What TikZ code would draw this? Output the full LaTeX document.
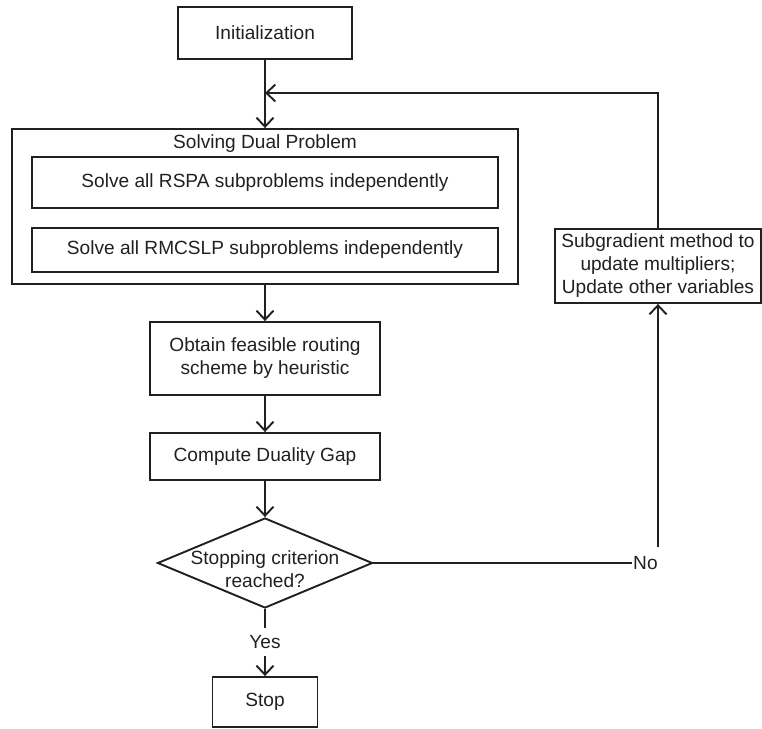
\documentclass[tikz,border=0pt]{standalone}
\usepackage{fontspec}
\setmainfont{Liberation Sans}
\usetikzlibrary{shapes.geometric,arrows.meta}
\definecolor{ink}{HTML}{231F20}
\begin{document}
\begin{tikzpicture}[x=1pt,y=-1pt,
  every node/.style={font=\fontsize{19.1}{23}\selectfont, text=ink},
  box/.style={draw=ink, line width=1.9pt, inner sep=0pt, align=center},
  arr/.style={draw=ink, line width=1.9pt, -{Straight Barb[length=9pt,width=17pt]}},
  ln/.style={draw=ink, line width=1.9pt},
  dec/.style={draw=ink, line width=1.9pt, shape=diamond, inner sep=0pt, minimum width=215pt, minimum height=90pt}]
\useasboundingbox (0,0) rectangle (762,728);
\node[box, minimum width=174pt, minimum height=52pt] (init) at (265,33) {Initialization};
\node[box, minimum width=506pt, minimum height=155pt] (outer) at (265,206.5) {};
\node (dualtitle) at (265,144) {Solving Dual Problem};
\node[box, minimum width=466pt, minimum height=51pt] (rspa) at (265,182.5) {Solve all RSPA subproblems independently};
\node[box, minimum width=466pt, minimum height=44pt] (rmcslp) at (265,250) {Solve all RMCSLP subproblems independently};
\node[box, minimum width=230pt, minimum height=73pt] (obtain) at (265,358.5) {Obtain feasible routing\\scheme by heuristic};
\node[box, minimum width=230pt, minimum height=47pt] (gap) at (265,456.5) {Compute Duality Gap};
\node[dec] (dec) at (265,563) {\makebox[0pt]{\raisebox{-14pt}[0pt][0pt]{\begin{tabular}{@{}c@{}}Stopping criterion\\reached?\end{tabular}}}};
\node[inner xsep=0pt, inner ysep=7pt] (yes) at (265,642) {Yes};
\node[box, minimum width=105pt, minimum height=50pt] (stop) at (265,702) {Stop};
\node[box, minimum width=206pt, minimum height=74pt] (sub) at (658,266) {Subgradient method to\\update multipliers;\\Update other variables};
\node[anchor=west, inner xsep=1pt, inner ysep=9pt] (no) at (632,563) {No};
\coordinate (join) at (265,93);
\draw[arr] (init) -- (outer);
\draw[arr] (outer) -- (obtain);
\draw[arr] (obtain) -- (gap);
\draw[arr] (gap) -- (dec);
\draw[ln] (dec) -- (yes);
\draw[arr] (yes) -- (stop);
\draw[ln] (dec.east) -- (no.west);
\draw[arr] (no.north -| sub.south) -- (sub.south);
\draw[arr] (sub.north) |- (join);
\end{tikzpicture}
\end{document}
